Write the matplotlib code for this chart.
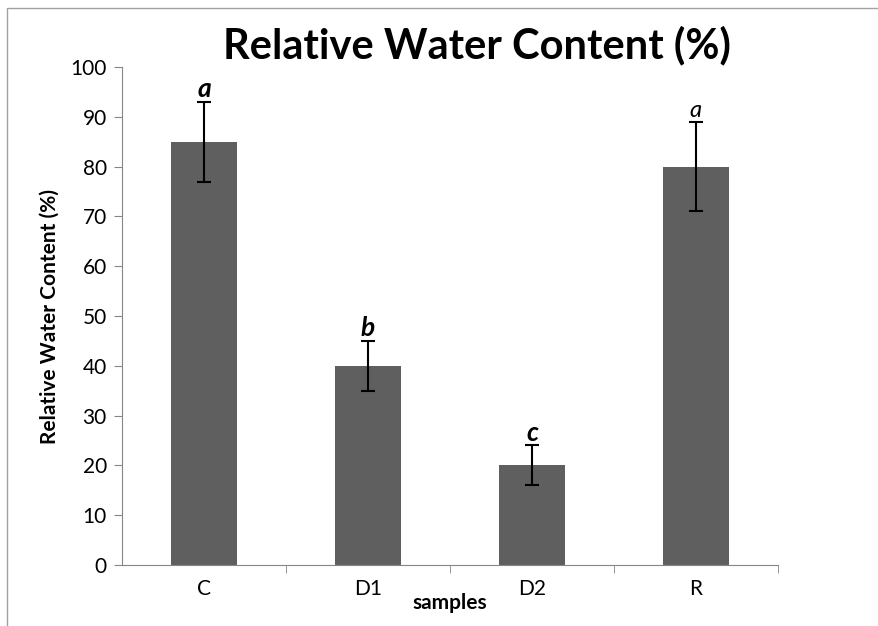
import matplotlib.pyplot as plt
from matplotlib.patches import Rectangle

# relative water content per sample (Excel style bar chart)

samples = ['C', 'D1', 'D2', 'R']
rwc = [85, 40, 20, 80]
err = [8, 5, 4, 9]
letters = ['a', 'b', 'c', 'a']

plt.rcParams['font.family'] = ['Lato', 'DejaVu Sans']

fig = plt.figure(figsize=(8.79, 6.26), dpi=100)
ax = fig.add_axes([0.139, 0.0974, 0.746, 0.7956])

x = range(len(samples))
ax.bar(x, rwc, width=0.4, color='#5f5f5f', yerr=err, capsize=5,
       error_kw=dict(ecolor='black', elinewidth=1.5, capthick=1.5))

for i, (v, e, l) in enumerate(zip(rwc, err, letters)):
    if i == 3:
        ax.text(i, v + e + 0.2, l, ha='center', va='bottom', fontsize=17, style='italic')
    else:
        ax.text(i, v + e + 0.2, l, ha='center', va='bottom', fontsize=19,
                style='italic', fontweight='bold')

ax.set_xlim(-0.5, 3.5)
ax.set_ylim(0, 100)
ax.set_yticks(range(0, 101, 10))
ax.set_xticks(list(x))
ax.set_xticklabels(samples)
ax.set_xticks([0.5, 1.5, 2.5, 3.5], minor=True)
ax.tick_params(axis='x', which='major', length=0, pad=10, labelsize=15)
ax.tick_params(axis='x', which='minor', length=6, color='#868686')
ax.tick_params(axis='y', length=6, color='#868686', labelsize=15, pad=5)

for s in ['top', 'right']:
    ax.spines[s].set_visible(False)
for s in ['left', 'bottom']:
    ax.spines[s].set_color('#868686')

ax.set_ylabel('Relative Water Content (%)', fontsize=15, fontweight='bold', labelpad=8)
ax.set_xlabel('samples', fontsize=15, fontweight='bold', labelpad=-4)
fig.text(0.543, 0.928, 'Relative Water Content (%)', ha='center', va='center',
         fontsize=30, fontweight='bold')

fig.patches.append(Rectangle((0.008, -0.01), 1.0, 0.997, transform=fig.transFigure,
                             fill=False, edgecolor='#a0a0a0', linewidth=1))

fig.savefig('out.png')
